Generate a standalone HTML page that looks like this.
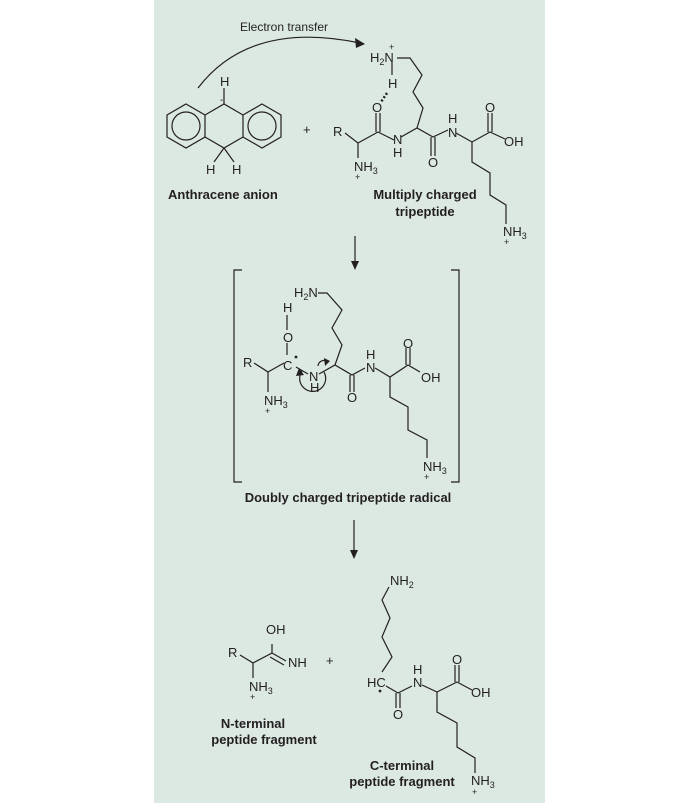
<!DOCTYPE html>
<html><head><meta charset="utf-8"><style>
html,body{margin:0;padding:0;background:#fff;}
svg{display:block;}
text{font-family:"Liberation Sans",sans-serif;fill:#231f20;}
.a{font-size:13px;}
.s{font-size:9px;}
.b{font-size:13px;font-weight:bold;}
</style></head><body>
<svg width="700" height="808" viewBox="0 0 700 808" xmlns="http://www.w3.org/2000/svg">
<rect x="154" y="0" width="391" height="803" fill="#dce9e2"/>
<g stroke="#231f20" stroke-width="1.2" fill="none" stroke-linejoin="miter">
<!-- electron transfer arc -->
<path d="M198,88 Q250,20 360,43"/>
<!-- anthracene -->
<polygon points="186,104 205,115 205,137 186,148 167,137 167,115"/>
<circle cx="186" cy="126" r="14"/>
<polygon points="262,104 281,115 281,137 262,148 243,137 243,115"/>
<circle cx="262" cy="126" r="14"/>
<path d="M205,115 L224,104 L243,115 M205,137 L224,148 L243,137"/>
<path d="M224,104 V88 M224,148 L214,162 M224,148 L234,162"/>
<!-- tripeptide 1 -->
<path d="M345,133 L358,143 V158 M358,143 L378,132 L394,140 M401,137 L417,128 L433,137 L448,130 M456,133 L472,142 L490,132 L505,139 M472,142 V162 L490,173 V195 L506,205 V224"/>
<path d="M376,132 V113 M380,132 V113 M431,137 V156 M435,137 V156 M488,132 V113 M492,132 V113"/>
<path d="M417,128 L423,108 L413,92 L422,75 L410,58 L397,58 M392,62 V75"/>
<path d="M387,93 L381,102" stroke-dasharray="2,2" stroke-width="2.5"/>
<!-- arrow 1 -->
<path d="M355,236 V263"/>
<!-- brackets -->
<path d="M242,270 H234 V482 H242 M451,270 H459 V482 H451"/>
<!-- radical -->
<path d="M254,363 L268,372 V392 M268,372 L284,363 M287,355 V343 M287,330 V315 M296,367 L308,374 M319,374 L335,365 L352,375 L365,368 M375,368 L390,377 L408,365 L420,372 M390,377 V397 L408,407 V430 L427,440 V458"/>
<path d="M350,375 V392 M354,375 V392 M406,365 V348 M410,365 V348"/>
<path d="M335,365 L342,345 L332,328 L342,310 L327,293 L318,293"/>
<path d="M302,371 A13,13 0 1 0 324,372"/>
<path d="M318,366 A6,6 0 0 1 328,362"/>
<!-- arrow 2 -->
<path d="M354,520 V552"/>
<!-- N-term -->
<path d="M240,655 L253,663 V678 M253,663 L272,653 V644 M272,653 L286,661 M270,657 L284,665"/>
<!-- C-term -->
<path d="M389,587 L382,600 L390,618 L382,637 L392,657 L382,672 M386,686 L398,693 L412,686 M422,685 L437,692 L457,682 L472,690 M437,692 V712 L457,723 V747 L475,758 V773"/>
<path d="M396,693 V708 M400,693 V708 M455,682 V665 M459,682 V665"/>
</g>
<g fill="#231f20">
<polygon points="365,44 355,38 356,48"/>
<polygon points="355,270 351,261 359,261"/>
<polygon points="354,559 350,550 358,550"/>
<polygon points="299,368 296,376 304,375"/>
<polygon points="330,361 324,358 325,366"/>
<circle cx="296" cy="357" r="1.4"/>
<circle cx="380" cy="691" r="1.4"/>
</g>
<text x="240" y="31" style="font-size:12px">Electron transfer</text>
<text class="a" x="220" y="86">H</text>
<text x="220" y="103" style="font-size:10px">-</text>
<text class="a" x="206" y="174">H</text>
<text class="a" x="232" y="174">H</text>
<text class="a" x="303" y="134">+</text>
<text class="b" x="168" y="199">Anthracene anion</text>
<text class="b" x="425" y="199" text-anchor="middle">Multiply charged</text>
<text class="b" x="425" y="216" text-anchor="middle">tripeptide</text>
<!-- tripeptide labels -->
<text class="a" x="333" y="136">R</text>
<text class="a" x="354" y="171">NH<tspan class="s" dy="3">3</tspan></text>
<text class="s" x="355" y="180">+</text>
<text class="a" x="372" y="112">O</text>
<text class="a" x="393" y="144">N</text>
<text class="a" x="393" y="157">H</text>
<text class="a" x="428" y="167">O</text>
<text class="a" x="448" y="137">N</text>
<text class="a" x="448" y="123">H</text>
<text class="a" x="485" y="112">O</text>
<text class="a" x="504" y="146">OH</text>
<text class="a" x="370" y="62">H<tspan class="s" dy="3">2</tspan><tspan dy="-3">N</tspan></text>
<text class="s" x="389" y="50">+</text>
<text class="a" x="388" y="88">H</text>
<text class="a" x="503" y="236">NH<tspan class="s" dy="3">3</tspan></text>
<text class="s" x="504" y="245">+</text>
<!-- radical labels -->
<text class="a" x="243" y="367">R</text>
<text class="a" x="264" y="405">NH<tspan class="s" dy="3">3</tspan></text>
<text class="s" x="265" y="414">+</text>
<text class="a" x="283" y="370">C</text>
<text class="a" x="283" y="342">O</text>
<text class="a" x="283" y="312">H</text>
<text class="a" x="309" y="381">N</text>
<text class="a" x="310" y="392">H</text>
<text class="a" x="294" y="297">H<tspan class="s" dy="3">2</tspan><tspan dy="-3">N</tspan></text>
<text class="a" x="347" y="402">O</text>
<text class="a" x="366" y="372">N</text>
<text class="a" x="366" y="359">H</text>
<text class="a" x="403" y="348">O</text>
<text class="a" x="421" y="382">OH</text>
<text class="a" x="423" y="471">NH<tspan class="s" dy="3">3</tspan></text>
<text class="s" x="424" y="480">+</text>
<text class="b" x="348" y="502" text-anchor="middle">Doubly charged tripeptide radical</text>
<!-- N-term labels -->
<text class="a" x="228" y="657">R</text>
<text class="a" x="266" y="634">OH</text>
<text class="a" x="288" y="667">NH</text>
<text class="a" x="249" y="691">NH<tspan class="s" dy="3">3</tspan></text>
<text class="s" x="250" y="700">+</text>
<text class="a" x="326" y="665">+</text>
<text class="b" x="253" y="728" text-anchor="middle">N-terminal</text>
<text class="b" x="264" y="744" text-anchor="middle">peptide fragment</text>
<!-- C-term labels -->
<text class="a" x="390" y="585">NH<tspan class="s" dy="3">2</tspan></text>
<text class="a" x="367" y="687">HC</text>
<text class="a" x="393" y="719">O</text>
<text class="a" x="413" y="687">N</text>
<text class="a" x="413" y="674">H</text>
<text class="a" x="452" y="664">O</text>
<text class="a" x="471" y="697">OH</text>
<text class="a" x="471" y="785">NH<tspan class="s" dy="3">3</tspan></text>
<text class="s" x="472" y="795">+</text>
<text class="b" x="402" y="770" text-anchor="middle">C-terminal</text>
<text class="b" x="402" y="786" text-anchor="middle">peptide fragment</text>
</svg>
</body></html>
